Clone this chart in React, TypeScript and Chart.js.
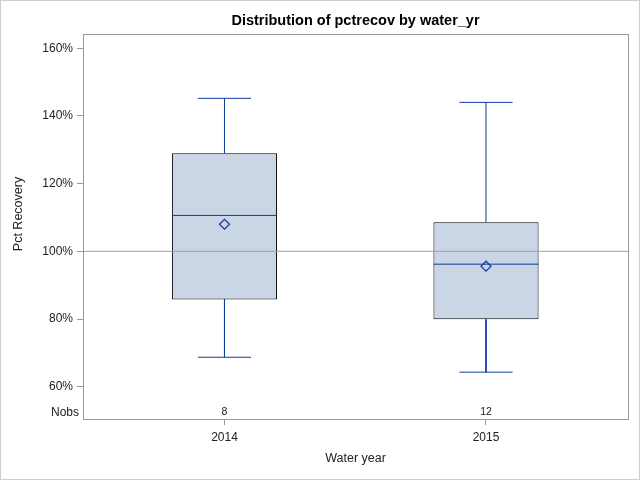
import React, { useEffect, useRef } from "react";
import { Chart, registerables } from "chart.js";

Chart.register(...registerables);

// ---- data ----
const categories = ["2014", "2015"];
const whiskerLow = [68.7, 64.3];
const q1 = [85.8, 79.9];
const median = [110.6, 96.2];
const q3 = [128.95, 108.6];
const whiskerHigh = [145.2, 144.0];
const means = [108.0, 95.6];
const nobs = [8, 12];
const yTicks = [60, 80, 100, 120, 140, 160];
const referenceValue = 100;

const chartTitle = "Distribution of pctrecov by water_yr";
const xTitle = "Water year";
const yTitle = "Pct Recovery";

// ---- styling ----
const BOX_WIDTH = 0.402; // in category units
const CAP_WIDTH = 0.203;
const X_MIN = -0.541;
const X_MAX = 1.543;
const Y_MIN = 50.46;
const Y_MAX = 164.2;
const BLUE = "#0D3B9E";
const FILL = "#CAD5E5";
const AXIS = "#9a9a9a";
const TEXT = "#222";
const FONT = '"Liberation Sans", Arial, sans-serif';

export default function App() {
  const ref = useRef<HTMLCanvasElement>(null);

  useEffect(() => {
    document.body.style.margin = "0";
    const canvas = ref.current!;
    const datasets: any[] = [];

    const seg = (pts: { x: number; y: number }[], order: number, color = BLUE) => ({
      type: "line",
      data: pts,
      borderColor: color,
      borderWidth: 1,
      pointRadius: 0,
      fill: false,
      order,
    });

    categories.forEach((_, i) => {
      datasets.push(seg([{ x: i, y: q3[i] }, { x: i, y: whiskerHigh[i] }], 5));
      datasets.push(seg([{ x: i, y: q1[i] }, { x: i, y: whiskerLow[i] }], 5));
      datasets.push(
        seg([{ x: i - CAP_WIDTH / 2, y: whiskerHigh[i] }, { x: i + CAP_WIDTH / 2, y: whiskerHigh[i] }], 5)
      );
      datasets.push(
        seg([{ x: i - CAP_WIDTH / 2, y: whiskerLow[i] }, { x: i + CAP_WIDTH / 2, y: whiskerLow[i] }], 5)
      );
      datasets.push(
        seg([{ x: i - BOX_WIDTH / 2, y: median[i] }, { x: i + BOX_WIDTH / 2, y: median[i] }], 2)
      );
    });

    datasets.push({
      type: "bar",
      data: categories.map((_, i) => ({ x: i, y: [q1[i], q3[i]] })),
      backgroundColor: FILL,
      borderColor: "#000",
      borderWidth: 1,
      borderSkipped: false,
      barPercentage: BOX_WIDTH,
      categoryPercentage: 1,
      grouped: false,
      order: 4,
    });

    datasets.push(
      seg([{ x: X_MIN, y: referenceValue }, { x: X_MAX, y: referenceValue }], 3, "#a0a0a0")
    );

    datasets.push({
      type: "line",
      data: categories.map((_, i) => ({ x: i, y: means[i] })),
      showLine: false,
      pointStyle: "rectRot",
      pointRadius: 5,
      pointBorderWidth: 1.2,
      pointBorderColor: BLUE,
      pointBackgroundColor: "rgba(0,0,0,0)",
      order: 1,
    });

    const decor = {
      id: "decor",
      beforeDraw(chart: any) {
        const ctx = chart.ctx;
        ctx.save();
        ctx.fillStyle = "#fff";
        ctx.fillRect(0, 0, chart.width, chart.height);
        ctx.restore();
      },
      afterDraw(chart: any) {
        const { ctx, chartArea: a, scales } = chart;
        ctx.save();
        // plot frame
        ctx.strokeStyle = AXIS;
        ctx.lineWidth = 1;
        ctx.strokeRect(
          Math.round(a.left) + 0.5,
          Math.round(a.top) + 0.5,
          Math.round(a.right) - Math.round(a.left),
          Math.round(a.bottom) - Math.round(a.top)
        );
        // outer border
        ctx.strokeStyle = "#cfcfcf";
        ctx.strokeRect(0.5, 0.5, chart.width - 1, chart.height - 1);

        const cx = (a.left + a.right) / 2;
        ctx.fillStyle = "#000";
        ctx.textAlign = "center";
        ctx.textBaseline = "alphabetic";
        ctx.font = `bold 14.5px ${FONT}`;
        ctx.fillText(chartTitle, cx, 25);

        ctx.fillStyle = TEXT;
        ctx.font = `12.5px ${FONT}`;
        ctx.fillText(xTitle, cx, 462);

        ctx.save();
        ctx.translate(19, 214);
        ctx.rotate(-Math.PI / 2);
        ctx.textBaseline = "middle";
        ctx.fillText(yTitle, 0, 0);
        ctx.restore();

        // Nobs inset
        ctx.font = `12px ${FONT}`;
        ctx.textAlign = "right";
        ctx.fillText("Nobs", a.left - 4, a.bottom - 3);
        ctx.font = `10.5px ${FONT}`;
        ctx.textAlign = "center";
        nobs.forEach((n, i) => {
          ctx.fillText(String(n), scales.x.getPixelForValue(i), a.bottom - 4);
        });
        ctx.restore();
      },
    };

    const chart = new Chart(canvas, {
      type: "bar",
      data: { datasets },
      options: {
        responsive: false,
        animation: false,
        devicePixelRatio: 1,
        layout: { padding: { top: 34, right: 12, bottom: 0, left: 0 } },
        plugins: { legend: { display: false }, tooltip: { enabled: false }, title: { display: false } },
        scales: {
          x: {
            type: "linear",
            min: X_MIN,
            max: X_MAX,
            offset: false,
            afterBuildTicks: (s: any) => {
              s.ticks = categories.map((_, i) => ({ value: i }));
            },
            afterFit: (s: any) => {
              s.height = 61;
            },
            ticks: {
              callback: (v: any) => categories[Math.round(Number(v))] ?? "",
              color: TEXT,
              font: { family: FONT, size: 12 },
              padding: 5,
              maxRotation: 0,
              autoSkip: false,
            },
            grid: { drawOnChartArea: false, drawTicks: true, tickLength: 6, color: AXIS, offset: false },
            border: { display: false },
          },
          y: {
            type: "linear",
            min: Y_MIN,
            max: Y_MAX,
            afterBuildTicks: (s: any) => {
              s.ticks = yTicks.map((v) => ({ value: v }));
            },
            afterFit: (s: any) => {
              s.width = 83;
            },
            ticks: {
              callback: (v: any) => `${v}%`,
              color: TEXT,
              font: { family: FONT, size: 12 },
              padding: 4,
              autoSkip: false,
            },
            grid: { drawOnChartArea: false, drawTicks: true, tickLength: 6, color: AXIS },
            border: { display: false },
          },
        },
      },
      plugins: [decor],
    } as any);

    return () => chart.destroy();
  }, []);

  return (
    <div style={{ position: "absolute", left: 0, top: 0, width: 640, height: 480 }}>
      <canvas ref={ref} width={640} height={480} style={{ width: 640, height: 480, display: "block" }} />
    </div>
  );
}
